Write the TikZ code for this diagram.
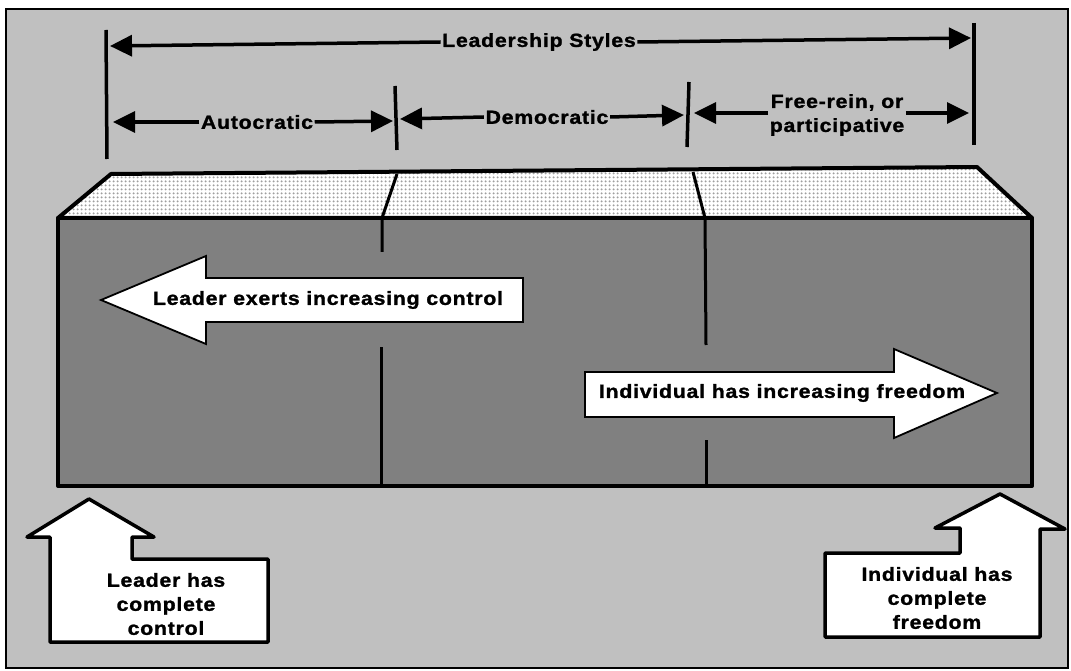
\documentclass[tikz,border=0pt]{standalone}
\usepackage{fontspec}
\newfontfamily\labfont[FakeStretch=1.12,LetterSpace=4,FakeBold=1.4]{Liberation Sans}
\usetikzlibrary{arrows.meta,patterns.meta}
\definecolor{bglight}{HTML}{C0C0C0}
\definecolor{facedark}{HTML}{808080}
\tikzdeclarepattern{
  name=bigdots,
  type=uncolored,
  bottom left={(0pt,0pt)},
  top right={(4pt,4pt)},
  tile size={(4pt,4pt)},
  code={\fill (2pt,2pt) circle (1.3pt);}
}
\tikzset{
  lab/.style={font=\labfont\bfseries\fontsize{19}{24}\selectfont, align=center, inner sep=1.5pt},
  dimarrow/.style={line width=3.5pt, -{Triangle[length=22pt,width=21pt]}},
  barline/.style={line width=3.5pt},
  edge/.style={line width=4pt, line join=round},
  divider/.style={line width=3pt},
  bigarrow/.style={fill=white, draw=black, line width=1.8pt, line join=miter},
  fatarrow/.style={fill=white, draw=black, line width=3.5pt, line join=round}
}
\begin{document}
\begin{tikzpicture}[x=1pt,y=-1pt]
\useasboundingbox[fill=white] (0,0) rectangle (1071,671);
% frame
\draw[fill=bglight, line width=1.5pt] (6,9) rectangle (1068,668);

% bars
\coordinate (b1t) at (106,30);  \coordinate (b1b) at (107,159);
\coordinate (b2t) at (395,86);  \coordinate (b2b) at (397,150);
\coordinate (b3t) at (689,82);  \coordinate (b3b) at (687,147);
\coordinate (b4t) at (974,23);  \coordinate (b4b) at (974,145);
\draw[barline] (b1t) -- (b1b);
\draw[barline] (b2t) -- (b2b);
\draw[barline] (b3t) -- (b3b);
\draw[barline] (b4t) -- (b4b);

% Leadership Styles
\node[lab] (ls) at (539,42) {Leadership Styles};
\coordinate (lsL) at (110,46);
\coordinate (lsR) at (971,38);
\draw[dimarrow] (ls.west) -- (lsL);
\draw[dimarrow] (ls.east) -- (lsR);

% Autocratic
\node[lab] (au) at (257,122) {Autocratic};
\coordinate (auL) at (113,122);
\coordinate (auR) at (393,121);
\draw[dimarrow] (au.west) -- (auL);
\draw[dimarrow] (au.east) -- (auR);

% Democratic
\node[lab] (de) at (547,117) {Democratic};
\coordinate (deL) at (400,119);
\coordinate (deR) at (684,115);
\draw[dimarrow] (de.west) -- (deL);
\draw[dimarrow] (de.east) -- (deR);

% Free-rein
\node[lab] (fr) at (837,115) {Free-rein, or\\participative};
\coordinate (frL) at (694,113);
\coordinate (frR) at (969,113);
\draw[dimarrow] (fr.west |- frL) -- (frL);
\draw[dimarrow] (fr.east |- frR) -- (frR);

% box
\draw[edge, fill=facedark] (58,218) rectangle (1032,486);
\fill[white] (111,174) -- (977,167) -- (1032,218) -- (58,218) -- cycle;
\fill[pattern=bigdots, pattern color=gray!75] (111,174) -- (977,167) -- (1032,218) -- (58,218) -- cycle;
\draw[edge] (111,174) -- (977,167) -- (1032,218) -- (58,218) -- cycle;

% dividers
\draw[divider] (397,174) -- (382,218) -- (382,252);
\draw[divider] (381,347) -- (381,486);
\draw[divider] (693,172) -- (705,218) -- (706,345);
\draw[divider] (706,440) -- (706,486);

% inner arrows
\draw[bigarrow] (101,300) -- (206,256) -- (206,278) -- (523,278) -- (523,322) -- (206,322) -- (206,344) -- cycle;
\node[lab] (lec) at (328,300) {Leader exerts increasing control};
\draw[bigarrow] (585,372) -- (894,372) -- (894,349) -- (997,393) -- (894,438) -- (894,417) -- (585,417) -- cycle;
\node[lab] (ihf) at (782,393) {Individual has increasing freedom};

% bottom arrows
\draw[fatarrow] (89,499) -- (154,537) -- (132,537) -- (132,559) -- (268,559) -- (268,642) -- (50,642) -- (50,537) -- (27,537) -- cycle;
\node[lab] (lcc) at (166,604) {Leader has\\complete\\control};
\draw[fatarrow] (1000,494) -- (1065,529) -- (1040,529) -- (1040,637) -- (825,637) -- (825,553) -- (960,553) -- (960,528) -- (935,528) -- cycle;
\node[lab] (icf) at (937,598) {Individual has\\complete\\freedom};
\end{tikzpicture}
\end{document}
